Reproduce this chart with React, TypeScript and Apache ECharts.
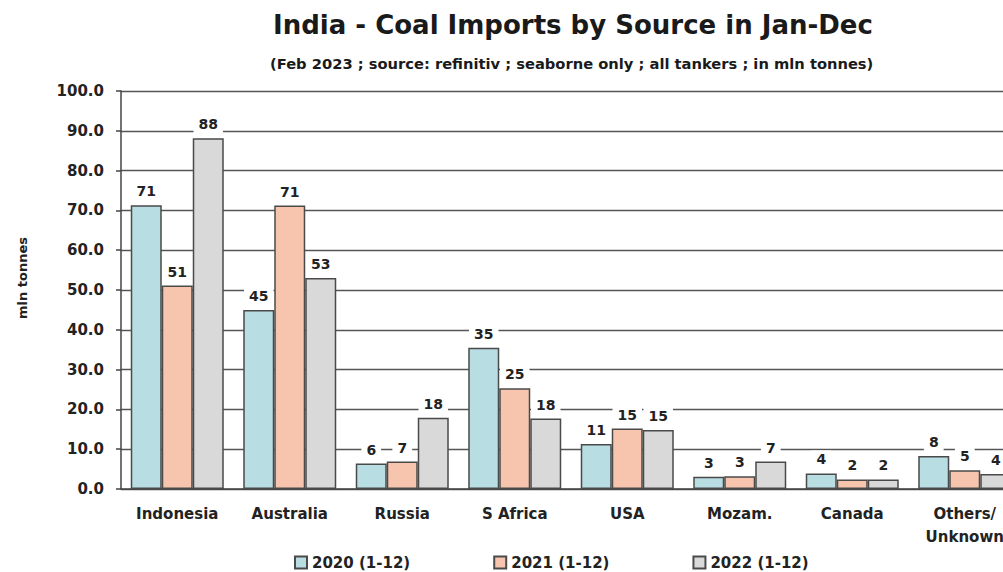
import React, { useEffect, useRef } from "react";
import * as echarts from "echarts";

const categories = ["Indonesia", "Australia", "Russia", "S Africa", "USA", "Mozam.", "Canada", "Others/\nUnknown"];
const seriesNames = ["2020 (1-12)", "2021 (1-12)", "2022 (1-12)"];
const values2020 = [71.3, 45.0, 6.4, 35.5, 11.3, 3.1, 3.9, 8.3];
const values2021 = [51.1, 71.2, 6.9, 25.3, 15.2, 3.2, 2.4, 4.7];
const values2022 = [88.1, 53.0, 17.9, 17.7, 14.8, 6.9, 2.4, 3.8];
const labels2020 = [71, 45, 6, 35, 11, 3, 4, 8];
const labels2021 = [51, 71, 7, 25, 15, 3, 2, 5];
const labels2022 = [88, 53, 18, 18, 15, 7, 2, 4];
const colors = ["#b8dde2", "#f7c4ad", "#d9d9d9"];

const FONT = "DejaVu Sans";

export default function App() {
  const ref = useRef<HTMLDivElement>(null);
  useEffect(() => {
    if (!ref.current) return;
    const chart = echarts.init(ref.current, null, { renderer: "svg" });
    const allValues = [values2020, values2021, values2022];
    const allLabels = [labels2020, labels2021, labels2022];
    chart.setOption({
      animation: false,
      backgroundColor: "#ffffff",
      textStyle: { fontFamily: FONT },
      title: [
        {
          text: "India - Coal Imports by Source in Jan-Dec",
          left: 268,
          top: 7,
          textStyle: { fontFamily: FONT, fontSize: 26, fontWeight: "bold", color: "#1a1a1a" },
        },
        {
          text: "(Feb 2023 ; source: refinitiv ; seaborne only ; all tankers ; in mln tonnes)",
          left: 265,
          top: 51,
          textStyle: { fontFamily: FONT, fontSize: 14.7, fontWeight: "bold", color: "#1a1a1a" },
        },
      ],
      graphic: [
        {
          type: "text",
          x: 22,
          y: 278,
          rotation: Math.PI / 2,
          style: {
            text: "mln tonnes",
            fontFamily: FONT,
            fontSize: 13,
            fontWeight: "bold",
            fill: "#222",
            align: "center",
            verticalAlign: "middle",
          },
        },
      ],
      legend: {
        left: 294,
        top: 555,
        padding: 0,
        itemWidth: 12,
        itemHeight: 12,
        itemGap: 83,
        icon: "rect",
        textStyle: { fontFamily: FONT, fontSize: 15, fontWeight: "bold", color: "#222" },
        data: seriesNames,
      },
      grid: { left: 121, right: 0, top: 91, bottom: 83 },
      xAxis: {
        type: "category",
        data: categories,
        axisLine: { lineStyle: { color: "#444", width: 1.5 } },
        axisTick: { show: false },
        axisLabel: {
          interval: 0,
          margin: 13,
          fontFamily: FONT,
          fontSize: 15,
          fontWeight: "bold",
          color: "#222",
          lineHeight: 23,
        },
      },
      yAxis: {
        type: "value",
        min: 0,
        max: 100,
        interval: 10,
        axisLine: { show: true, lineStyle: { color: "#444", width: 1.5 } },
        axisTick: { show: true, length: 5, lineStyle: { color: "#444", width: 1.5 } },
        axisLabel: {
          margin: 17,
          fontFamily: FONT,
          fontSize: 15,
          fontWeight: "bold",
          color: "#222",
          formatter: (v: number) => v.toFixed(1),
        },
        splitLine: { show: true, lineStyle: { color: "#555", width: 1.3 } },
      },
      series: seriesNames.map((name, i) => ({
        name,
        type: "bar",
        data: allValues[i],
        barWidth: 31,
        barGap: "0%",
        itemStyle: { color: colors[i], borderColor: "#4a4a4a", borderWidth: 1.5 },
        label: {
          show: true,
          position: "top",
          distance: 5,
          fontFamily: FONT,
          fontSize: 14,
          fontWeight: "bold",
          color: "#222",
          backgroundColor: "#ffffff",
          padding: [2, 5],
          formatter: (p: any) => String(allLabels[i][p.dataIndex]),
        },
      })),
    });
    return () => chart.dispose();
  }, []);
  return (
    <div style={{ position: "fixed", left: 0, top: 0, width: 1003, height: 572, overflow: "hidden" }}>
      <div ref={ref} style={{ width: 1021, height: 572 }} />
    </div>
  );
}
